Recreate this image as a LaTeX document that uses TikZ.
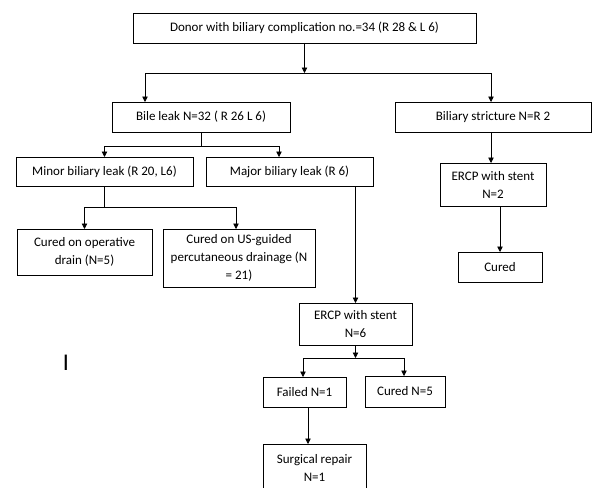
\documentclass[tikz,border=0pt]{standalone}
\usepackage{fontspec}
\setmainfont{Carlito}
\usetikzlibrary{arrows.meta,positioning,calc}
\tikzset{
  flow/.style={
    rectangle,
    draw=black,
    line width=0.9pt,
    align=center,
    inner sep=2pt,
    outer sep=0pt,
    minimum height=30pt,
    font=\fontsize{13}{18}\selectfont
  },
  line/.style={-{Triangle[length=5.5pt,width=5.5pt]}, line width=0.8pt, draw=black},
  link/.style={line width=0.8pt, draw=black}
}

\begin{document}
\begin{tikzpicture}[x=1pt,y=-1pt]
  \useasboundingbox (0,0) rectangle (593,487);
  \clip (0,0) rectangle (593,487);

  \node[flow, minimum width=343pt] (donor) at (304.5,28) {Donor with biliary complication no.=34 (R 28 \& L 6)};

  \node[flow, minimum width=178pt] (bile) at (201,117) {Bile leak N=32 ( R 26 L 6)};
  \node[flow, minimum width=196pt] (stricture) at (493,117) {Biliary stricture N=R 2};

  \node[flow, minimum width=177pt, minimum height=29pt] (minor) at (104.5,171.5) {Minor biliary leak (R 20, L6)};
  \node[flow, minimum width=167pt, minimum height=29pt] (major) at (289.5,171.5) {Major biliary leak (R 6)};

  \node[flow, minimum width=135pt, minimum height=46pt] (drain) at (84.5,252) {Cured on operative\\drain (N=5)};
  \node[flow, minimum width=152pt, minimum height=58pt] (usguided) at (239,258) {Cured on US-guided\\percutaneous drainage (N\\= 21)};

  \node[flow, minimum width=106pt, minimum height=43pt] (ercpright) at (493,184.5) {ERCP with stent\\N=2};
  \node[flow, minimum width=84pt] (curedright) at (500,267) {Cured};

  \node[flow, minimum width=113pt, minimum height=42pt] (ercpmajor) at (355.5,324) {ERCP with stent\\N=6};
  \node[flow, minimum width=83pt] (failed) at (304.5,392) {Failed N=1};
  \node[flow, minimum width=80pt, minimum height=31pt] (curedmajor) at (405,391.5) {Cured N=5};
  \node[flow, minimum width=103pt, minimum height=48pt] (surgical) at (314.5,468) {Surgical repair\\N=1};

  \node[font=\fontsize{24}{24}\selectfont, inner sep=0pt] (mark) at (66,363) {I};

  \coordinate (split1) at (304.5,73);
  \coordinate (split2) at (201,146);
  \coordinate (split3) at (104.5,207);
  \coordinate (split4) at (355.5,358);

  \draw[line] (donor.south) -- (split1);
  \draw[line] (split1) -| ([xshift=-56pt]bile.north);
  \draw[line] (split1) -| ([xshift=-2pt]stricture.north);

  \draw[link] (bile.south) -- (split2);
  \draw[line] (split2) -| (minor.north);
  \draw[line] (split2) -| ([xshift=-10.5pt]major.north);

  \draw[link] (minor.south) -- (split3);
  \draw[line] (split3) -| (drain.north);
  \draw[line] (split3) -| ([xshift=-3pt]usguided.north);

  \draw[line] (ercpmajor.north |- major.south) -- (ercpmajor.north);
  \draw[line] ([xshift=-2pt]stricture.south) -- ([xshift=-2pt]ercpright.north);
  \draw[line] (curedright.north |- ercpright.south) -- (curedright.north);

  \draw[line] (ercpmajor.south) -- (split4);
  \draw[line] (split4) -| ([xshift=-1.5pt]failed.north);
  \draw[line] (split4) -| ([xshift=-1pt]curedmajor.north);
  \draw[line] ([xshift=3.5pt]failed.south) -- ([xshift=3.5pt]failed.south |- surgical.north);
\end{tikzpicture}
\end{document}
